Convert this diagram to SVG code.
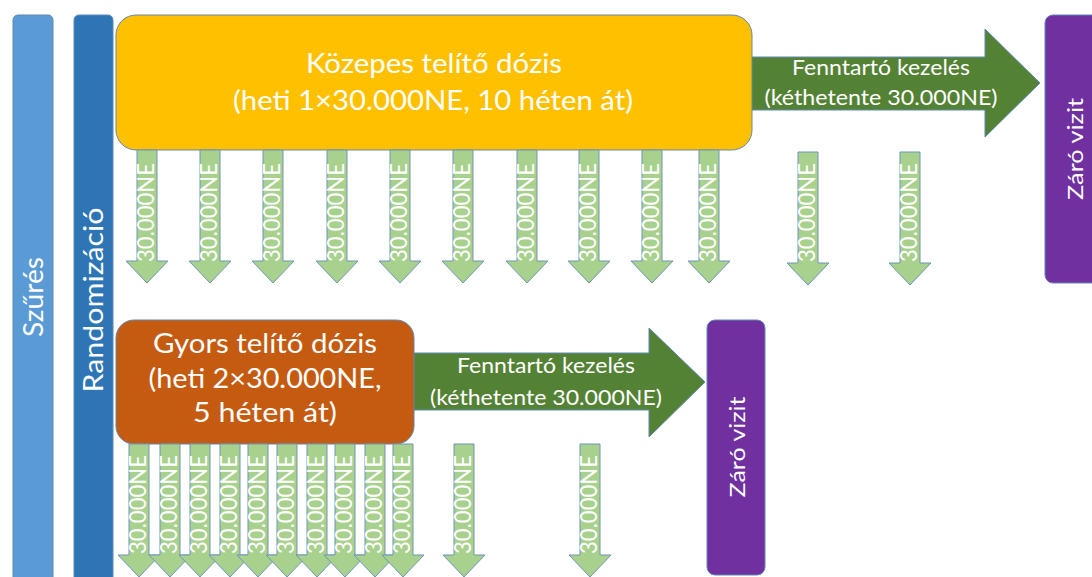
<svg xmlns="http://www.w3.org/2000/svg" width="1092" height="577" viewBox="0 0 1092 577">
<style>
.t{font-family:Lato,"Open Sans","Noto Sans",sans-serif;fill:#fff}
.big{font-size:27px}
.mid{font-size:21px}
.bar{font-size:27px}
.dose{font-size:23px;fill:#fff}
.ol{stroke:#5E89B4;stroke-width:1}
.dn{fill:#A9D18E;stroke:#6F95BA;stroke-width:1}
</style>
<defs>
<path id="dn" d="M-10,0 H10 V111 H21 L0,133 L-21,111 H-10 Z"/>
</defs>
<rect width="1092" height="577" fill="#fff"/>

<g id="szures">
<rect x="13" y="15" width="40" height="580" rx="5" fill="#5B9BD5" class="ol"/>
<text class="t bar" text-anchor="middle" transform="translate(43,297) rotate(-90)" textLength="80" lengthAdjust="spacingAndGlyphs">Szűrés</text>
</g>

<g id="randomizacio">
<rect x="74" y="15" width="39" height="580" rx="5" fill="#2E75B6" class="ol"/>
<text class="t bar" text-anchor="middle" transform="translate(103,300) rotate(-90)" textLength="185" lengthAdjust="spacingAndGlyphs">Randomizáció</text>
</g>

<g id="connectors">
<g id="fenntarto-top">
<path d="M745,57 H985 V29 L1040,83 L985,137 V110 H745 Z" fill="#548235" class="ol"/>
<text class="t mid" x="881" y="75" text-anchor="middle" textLength="178" lengthAdjust="spacingAndGlyphs">Fenntartó kezelés</text>
<text class="t mid" x="881" y="105" text-anchor="middle" textLength="233" lengthAdjust="spacingAndGlyphs">(kéthetente 30.000NE)</text>
</g>
<g id="fenntarto-bottom">
<path d="M408,353 H649 V328 L705,382 L649,437 V410 H408 Z" fill="#548235" class="ol"/>
<text class="t mid" x="546" y="373" text-anchor="middle" textLength="178" lengthAdjust="spacingAndGlyphs">Fenntartó kezelés</text>
<text class="t mid" x="546" y="405" text-anchor="middle" textLength="232" lengthAdjust="spacingAndGlyphs">(kéthetente 30.000NE)</text>
</g>
</g>

<g id="kozepes">
<rect x="116" y="15" width="636" height="135" rx="20" fill="#FFC000" class="ol"/>
<text class="t big" x="434" y="73" text-anchor="middle" textLength="256" lengthAdjust="spacingAndGlyphs">Közepes telítő dózis</text>
<text class="t big" x="433" y="110" text-anchor="middle" textLength="400" lengthAdjust="spacingAndGlyphs">(heti 1×30.000NE, 10 héten át)</text>
</g>

<g id="gyors">
<rect x="116" y="320" width="298" height="124" rx="18" fill="#C55A11" class="ol"/>
<text class="t big" x="265" y="353" text-anchor="middle" textLength="224" lengthAdjust="spacingAndGlyphs">Gyors telítő dózis</text>
<text class="t big" x="265" y="388" text-anchor="middle" textLength="233" lengthAdjust="spacingAndGlyphs">(heti 2×30.000NE,</text>
<text class="t big" x="265" y="422" text-anchor="middle" textLength="144" lengthAdjust="spacingAndGlyphs">5 héten át)</text>
</g>

<g id="zaro-top">
<rect x="1045" y="15" width="62" height="268" rx="8" fill="#7030A0" class="ol"/>
<text class="t mid" text-anchor="middle" transform="translate(1083,149) rotate(-90)" textLength="102" lengthAdjust="spacingAndGlyphs">Záró vizit</text>
</g>

<g id="zaro-bottom">
<rect x="707" y="320" width="58" height="255" rx="8" fill="#7030A0" class="ol"/>
<text class="t mid" text-anchor="middle" transform="translate(745,447) rotate(-90)" textLength="101" lengthAdjust="spacingAndGlyphs">Záró vizit</text>
</g>

<g id="doses-top">
<g transform="translate(147,150)"><use href="#dn" class="dn"/><text class="t dose" transform="translate(7,112) rotate(-90)" textLength="99" lengthAdjust="spacingAndGlyphs">30.000NE</text></g>
<g transform="translate(210,150)"><use href="#dn" class="dn"/><text class="t dose" transform="translate(7,112) rotate(-90)" textLength="99" lengthAdjust="spacingAndGlyphs">30.000NE</text></g>
<g transform="translate(273,150)"><use href="#dn" class="dn"/><text class="t dose" transform="translate(7,112) rotate(-90)" textLength="99" lengthAdjust="spacingAndGlyphs">30.000NE</text></g>
<g transform="translate(337,150)"><use href="#dn" class="dn"/><text class="t dose" transform="translate(7,112) rotate(-90)" textLength="99" lengthAdjust="spacingAndGlyphs">30.000NE</text></g>
<g transform="translate(400,150)"><use href="#dn" class="dn"/><text class="t dose" transform="translate(7,112) rotate(-90)" textLength="99" lengthAdjust="spacingAndGlyphs">30.000NE</text></g>
<g transform="translate(463,150)"><use href="#dn" class="dn"/><text class="t dose" transform="translate(7,112) rotate(-90)" textLength="99" lengthAdjust="spacingAndGlyphs">30.000NE</text></g>
<g transform="translate(527,150)"><use href="#dn" class="dn"/><text class="t dose" transform="translate(7,112) rotate(-90)" textLength="99" lengthAdjust="spacingAndGlyphs">30.000NE</text></g>
<g transform="translate(589,150)"><use href="#dn" class="dn"/><text class="t dose" transform="translate(7,112) rotate(-90)" textLength="99" lengthAdjust="spacingAndGlyphs">30.000NE</text></g>
<g transform="translate(652,150)"><use href="#dn" class="dn"/><text class="t dose" transform="translate(7,112) rotate(-90)" textLength="99" lengthAdjust="spacingAndGlyphs">30.000NE</text></g>
<g transform="translate(709,150)"><use href="#dn" class="dn"/><text class="t dose" transform="translate(7,112) rotate(-90)" textLength="99" lengthAdjust="spacingAndGlyphs">30.000NE</text></g>
<g transform="translate(808,152)"><use href="#dn" class="dn"/><text class="t dose" transform="translate(7,110) rotate(-90)" textLength="99" lengthAdjust="spacingAndGlyphs">30.000NE</text></g>
<g transform="translate(910,152)"><use href="#dn" class="dn"/><text class="t dose" transform="translate(7,110) rotate(-90)" textLength="99" lengthAdjust="spacingAndGlyphs">30.000NE</text></g>
</g>

<g id="doses-bottom">
<g transform="translate(139,444)"><use href="#dn" class="dn"/><text class="t dose" transform="translate(7,110) rotate(-90)" textLength="99" lengthAdjust="spacingAndGlyphs">30.000NE</text></g>
<g transform="translate(170,444)"><use href="#dn" class="dn"/><text class="t dose" transform="translate(7,110) rotate(-90)" textLength="99" lengthAdjust="spacingAndGlyphs">30.000NE</text></g>
<g transform="translate(200,444)"><use href="#dn" class="dn"/><text class="t dose" transform="translate(7,110) rotate(-90)" textLength="99" lengthAdjust="spacingAndGlyphs">30.000NE</text></g>
<g transform="translate(230,444)"><use href="#dn" class="dn"/><text class="t dose" transform="translate(7,110) rotate(-90)" textLength="99" lengthAdjust="spacingAndGlyphs">30.000NE</text></g>
<g transform="translate(258,444)"><use href="#dn" class="dn"/><text class="t dose" transform="translate(7,110) rotate(-90)" textLength="99" lengthAdjust="spacingAndGlyphs">30.000NE</text></g>
<g transform="translate(287,444)"><use href="#dn" class="dn"/><text class="t dose" transform="translate(7,110) rotate(-90)" textLength="99" lengthAdjust="spacingAndGlyphs">30.000NE</text></g>
<g transform="translate(317,444)"><use href="#dn" class="dn"/><text class="t dose" transform="translate(7,110) rotate(-90)" textLength="99" lengthAdjust="spacingAndGlyphs">30.000NE</text></g>
<g transform="translate(345,444)"><use href="#dn" class="dn"/><text class="t dose" transform="translate(7,110) rotate(-90)" textLength="99" lengthAdjust="spacingAndGlyphs">30.000NE</text></g>
<g transform="translate(375,444)"><use href="#dn" class="dn"/><text class="t dose" transform="translate(7,110) rotate(-90)" textLength="99" lengthAdjust="spacingAndGlyphs">30.000NE</text></g>
<g transform="translate(403,444)"><use href="#dn" class="dn"/><text class="t dose" transform="translate(7,110) rotate(-90)" textLength="99" lengthAdjust="spacingAndGlyphs">30.000NE</text></g>
<g transform="translate(464,444)"><use href="#dn" class="dn"/><text class="t dose" transform="translate(7,110) rotate(-90)" textLength="99" lengthAdjust="spacingAndGlyphs">30.000NE</text></g>
<g transform="translate(590,444)"><use href="#dn" class="dn"/><text class="t dose" transform="translate(7,110) rotate(-90)" textLength="99" lengthAdjust="spacingAndGlyphs">30.000NE</text></g>
</g>
</svg>
